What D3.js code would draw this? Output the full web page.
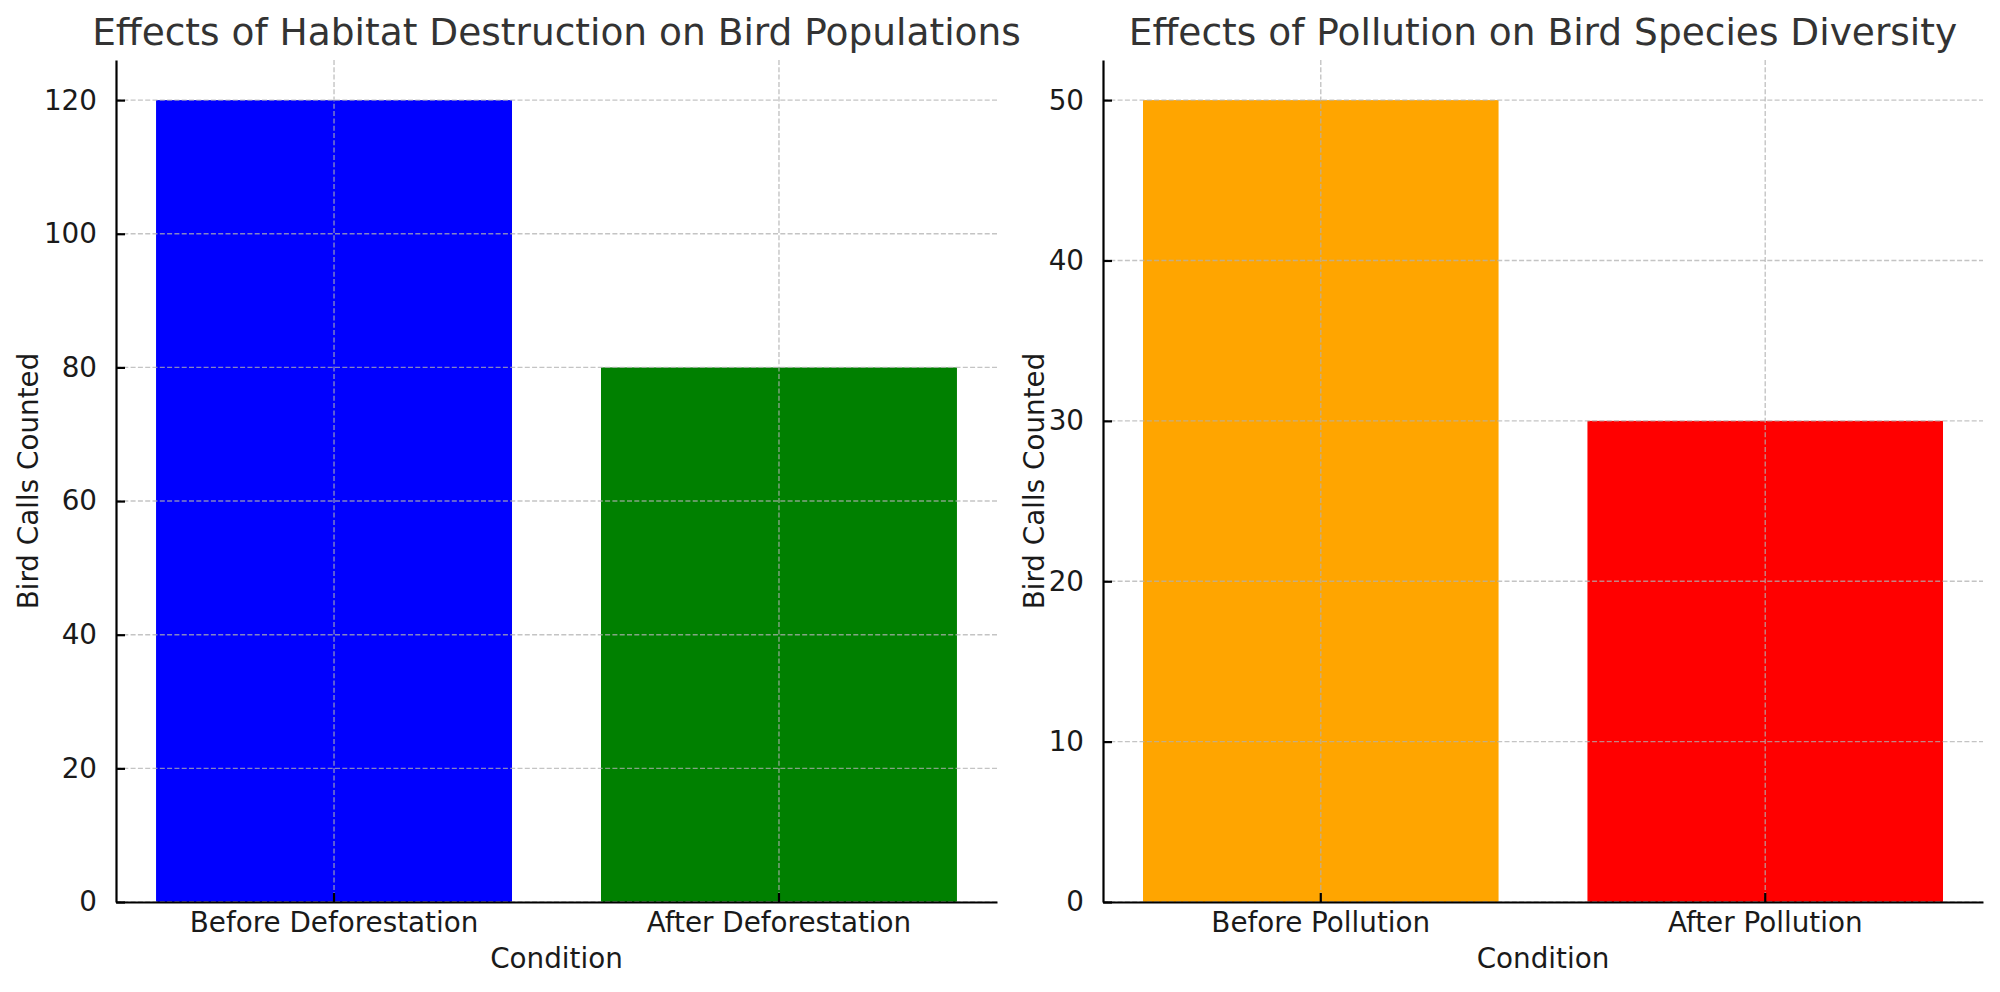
<!DOCTYPE html>
<html>
<head>
<meta charset="utf-8">
<script src="https://cdn.jsdelivr.net/npm/d3@7"></script>
<style>
  body { margin: 0; background: #fff; }
  svg text { font-family: 'DejaVu Sans', sans-serif; }
</style>
</head>
<body>
<script>
// DATA
const habitatCats = ['Before Deforestation', 'After Deforestation'];
const habitatVals = [120, 80];
const habitatColors = ['blue', 'green'];
const habitatTicks = [0, 20, 40, 60, 80, 100, 120];

const pollutionCats = ['Before Pollution', 'After Pollution'];
const pollutionVals = [50, 30];
const pollutionColors = ['orange', 'red'];
const pollutionTicks = [0, 10, 20, 30, 40, 50];

const svgWidth = 2000;
const svgHeight = 992;
const plotTop = 60;
const plotBottom = 902;

const svg = d3
  .select('body')
  .append('svg')
  .attr('width', svgWidth)
  .attr('height', svgHeight);

function drawPanel(opts) {
  const { left, right, cats, vals, colors, ticks, yMax, title } = opts;
  const g = svg.append('g');

  const x = d3
    .scaleBand()
    .domain(cats)
    .range([left, right])
    .paddingInner(0.2)
    .paddingOuter(0.09);

  const y = d3.scaleLinear().domain([0, yMax]).range([plotBottom, plotTop]);

  // bars
  g.selectAll('rect')
    .data(vals)
    .enter()
    .append('rect')
    .attr('x', (d, i) => x(cats[i]))
    .attr('y', d => y(d))
    .attr('width', x.bandwidth())
    .attr('height', d => y(0) - y(d))
    .attr('fill', (d, i) => colors[i]);

  // grid (drawn over the bars, like matplotlib)
  const grid = g.append('g')
    .attr('stroke', '#b0b0b0')
    .attr('stroke-opacity', 0.75)
    .attr('stroke-width', 1.4)
    .attr('stroke-dasharray', '5,2.3');
  grid.selectAll('.hg')
    .data(ticks)
    .enter()
    .append('line')
    .attr('x1', left)
    .attr('x2', right)
    .attr('y1', d => y(d))
    .attr('y2', d => y(d));
  grid.selectAll('.vg')
    .data(cats)
    .enter()
    .append('line')
    .attr('x1', d => x(d) + x.bandwidth() / 2)
    .attr('x2', d => x(d) + x.bandwidth() / 2)
    .attr('y1', plotTop)
    .attr('y2', plotBottom);

  // axes
  const yAxis = d3.axisLeft(y).tickValues(ticks).tickSizeInner(-9).tickSizeOuter(0).tickPadding(19);
  const xAxis = d3.axisBottom(x).tickSizeInner(-9).tickSizeOuter(0).tickPadding(10);

  const ya = g.append('g')
    .attr('transform', `translate(${left},0)`)
    .call(yAxis);
  ya.select('.domain').attr('stroke', '#000').attr('stroke-width', 2.2);
  ya.selectAll('.tick line').attr('stroke', '#000').attr('stroke-width', 2.2);
  ya.selectAll('.tick text')
    .attr('font-size', 27.8)
    .attr('fill', '#1a1a1a');

  const xa = g.append('g')
    .attr('transform', `translate(0,${plotBottom})`)
    .call(xAxis);
  xa.select('.domain').attr('stroke', '#000').attr('stroke-width', 2.2);
  xa.selectAll('.tick line').attr('stroke', '#000').attr('stroke-width', 2.2);
  xa.selectAll('.tick text')
    .attr('font-size', 27.8)
    .attr('fill', '#1a1a1a');

  // title
  g.append('text')
    .attr('x', (left + right) / 2)
    .attr('y', 45)
    .attr('text-anchor', 'middle')
    .attr('font-size', 37.5)
    .attr('fill', '#333')
    .text(title);

  // axis labels
  g.append('text')
    .attr('x', (left + right) / 2)
    .attr('y', 968)
    .attr('text-anchor', 'middle')
    .attr('font-size', 27.8)
    .attr('fill', '#1a1a1a')
    .text('Condition');

  g.append('text')
    .attr('transform', `translate(${opts.ylabelX},${(plotTop + plotBottom) / 2}) rotate(-90)`)
    .attr('text-anchor', 'middle')
    .attr('font-size', 27.8)
    .attr('fill', '#1a1a1a')
    .text('Bird Calls Counted');
}

drawPanel({
  left: 116,
  right: 997,
  cats: habitatCats,
  vals: habitatVals,
  colors: habitatColors,
  ticks: habitatTicks,
  yMax: 126,
  title: 'Effects of Habitat Destruction on Bird Populations',
  ylabelX: 38
});

drawPanel({
  left: 1103,
  right: 1983,
  cats: pollutionCats,
  vals: pollutionVals,
  colors: pollutionColors,
  ticks: pollutionTicks,
  yMax: 52.5,
  title: 'Effects of Pollution on Bird Species Diversity',
  ylabelX: 1044
});
</script>
</body>
</html>
